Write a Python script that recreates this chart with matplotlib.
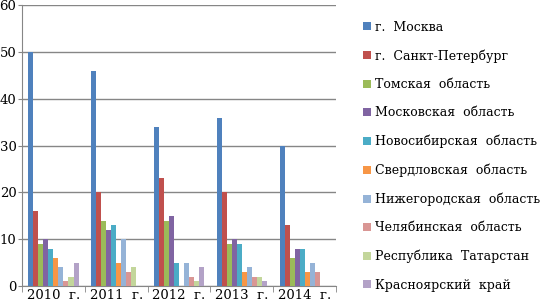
import matplotlib.pyplot as plt
import numpy as np

plt.rcParams['font.family'] = ['DejaVu Serif']

years = ["2010  г.", "2011  г.", "2012  г.", "2013  г.", "2014  г."]
regions = ["г.  Москва", "г.  Санкт-Петербург", "Томская  область", "Московская  область",
           "Новосибирская  область", "Свердловская  область", "Нижегородская  область",
           "Челябинская  область", "Республика  Татарстан", "Красноярский  край"]
colors = ["#4F81BD", "#C0504D", "#9BBB59", "#8064A2", "#4BACC6",
          "#F79646", "#95B3D7", "#D99694", "#C3D69B", "#B3A2C7"]

moskva = [50, 46, 34, 36, 30]
spb = [16, 20, 23, 20, 13]
tomsk = [9, 14, 14, 9, 6]
mosobl = [10, 12, 15, 10, 8]
novosib = [8, 13, 5, 9, 8]
sverdl = [6, 5, 0, 3, 3]
nizhny = [4, 10, 5, 4, 5]
chelyab = [1, 3, 2, 2, 3]
tatarstan = [2, 4, 1, 2, 0]
krasnoyarsk = [5, 0, 4, 1, 0]
series = [moskva, spb, tomsk, mosobl, novosib, sverdl, nizhny, chelyab, tatarstan, krasnoyarsk]

fig = plt.figure(figsize=(5.57, 3.06), dpi=100)
ax = fig.add_axes([0.0395, 0.065, 0.564, 0.918])

x = np.arange(len(years))
n = len(series)
w = 0.8 / n
for i, (vals, lab, c) in enumerate(zip(series, regions, colors)):
    ax.bar(x - 0.4 + w * (i + 0.5), vals, width=w, color=c, label=lab, zorder=3)

ax.set_xlim(-0.5, len(years) - 0.5)
ax.set_ylim(0, 60)
ax.set_yticks(range(0, 61, 10))
ax.yaxis.grid(True, color="#868686", linewidth=1, zorder=0)
ax.set_xticks(x)
ax.set_xticklabels(years)
ax.set_xticks(np.arange(-0.5, len(years), 1), minor=True)
ax.tick_params(axis="x", which="major", length=0, labelsize=9.5, pad=2)
ax.tick_params(axis="x", which="minor", length=4, color="#868686")
ax.tick_params(axis="y", length=3, color="#868686", labelsize=9.5, pad=1)
for s in ["top", "right"]:
    ax.spines[s].set_visible(False)
for s in ["left", "bottom"]:
    ax.spines[s].set_color("#868686")

ax.legend(loc="upper left", bbox_to_anchor=(0.652, 0.932), bbox_transform=fig.transFigure,
          frameon=False, fontsize=9, handlelength=0.6, handleheight=0.6,
          handletextpad=0.35, labelspacing=1.23, borderaxespad=0, borderpad=0)

fig.savefig("out.png", dpi=100)
